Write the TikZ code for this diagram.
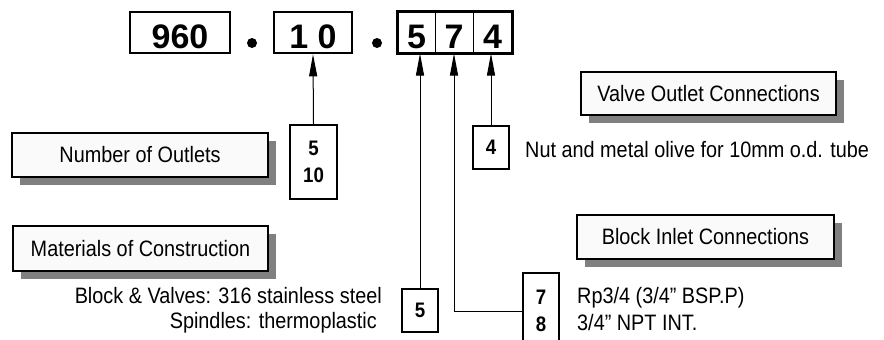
\documentclass[tikz,border=0pt]{standalone}
\usepackage{fontspec}
\setmainfont{Liberation Sans}
\newfontfamily\narrowfont{Liberation Sans}[FakeStretch=0.89]
\usetikzlibrary{arrows.meta,shadows}
\begin{document}
\begin{tikzpicture}[x=1pt,y=-1pt,
 topbox/.style={draw,line width=2.6pt,minimum height=41pt,inner sep=0pt,text height=31pt,text depth=0pt,font=\fontsize{34}{36}\selectfont\bfseries},
 cell/.style={draw,line width=1pt,minimum height=41pt,inner sep=0pt,text height=31pt,text depth=0pt,font=\fontsize{34}{36}\selectfont\bfseries},
 labelbox/.style={draw,line width=1.8pt,fill=white!98!black,minimum width=256pt,minimum height=44pt,inner sep=0pt,font=\narrowfont\fontsize{22.3}{26}\selectfont,drop shadow={shadow xshift=8pt,shadow yshift=-8pt,fill=black!50,opacity=1}},
 codebox/.style={draw,line width=2.3pt,inner sep=0pt,align=center,font=\narrowfont\fontsize{21}{27}\selectfont\bfseries},
 desc/.style={inner sep=0pt,font=\narrowfont\fontsize{22.3}{25}\selectfont},
 conn/.style={line width=1pt,-{Triangle[length=22pt,width=8pt]}},
 dotmark/.style={circle,fill,inner sep=0pt,minimum size=10pt}]
\useasboundingbox (0,0) rectangle (884,340);
\clip (0,0) rectangle (884,340);
\fill[white] (0,0) rectangle (884,340);
% top code
\node[topbox,minimum width=100pt] (b960) at (180,32.5) {960};
\node[dotmark] (d1) at (252,43) {};
\node[topbox,minimum width=78pt] (b10) at (313,32.5) {1 0};
\node[dotmark] (d2) at (377,43) {};
\node[cell,minimum width=37pt] (c5) at (416.5,32.5) {5};
\node[cell,minimum width=38pt] (c7) at (454,32.5) {7};
\node[cell,minimum width=39pt] (c4) at (492.5,32.5) {4};
\draw[line width=2.6pt] (c5.north west) rectangle (c4.south east);
% label boxes
\node[labelbox] (nout) at (140,155) {Number of Outlets};
\node[labelbox,minimum width=255pt,minimum height=45pt] (mat) at (140.5,248.5) {Materials of Construction};
\node[labelbox,minimum width=255pt,minimum height=43pt] (vout) at (708.5,93.5) {Valve Outlet Connections};
\node[labelbox,minimum width=257pt] (binl) at (705.5,237) {Block Inlet Connections};
% code boxes
\node[codebox,minimum width=47pt,minimum height=74pt] (n510) at (313.5,162) {5\\10};
\node[codebox,minimum width=36pt,minimum height=43pt] (n4) at (491,147.5) {4};
\node[codebox,minimum width=36pt,minimum height=43pt] (n5) at (420,310.5) {5};
\node[codebox,minimum width=36pt,minimum height=76pt,anchor=north] (n78) at (541,272) {7\\8};
% descriptions
\node[desc,anchor=base west] (t4) at (525,157) {Nut and metal olive for 10mm o.d. tube};
\node[desc,anchor=base east] (tm1) at (382,303) {Block \& Valves: 316 stainless steel};
\node[desc,anchor=base east] (tm2) at (377,328) {Spindles: thermoplastic};
\node[desc,anchor=base west] (tb1) at (577,303) {Rp3/4 (3/4” BSP.P)};
\node[desc,anchor=base west] (tb2) at (577,330) {3/4” NPT INT.};
% connectors
\draw[conn] (n510.north) -- (b10.south);
\draw[conn] (n5.north) -- (n5.north |- c5.south);
\draw[conn] (n78.west) -| (c7.south);
\draw[conn] (n4.north) -- (n4.north |- c4.south);
\end{tikzpicture}
\end{document}
